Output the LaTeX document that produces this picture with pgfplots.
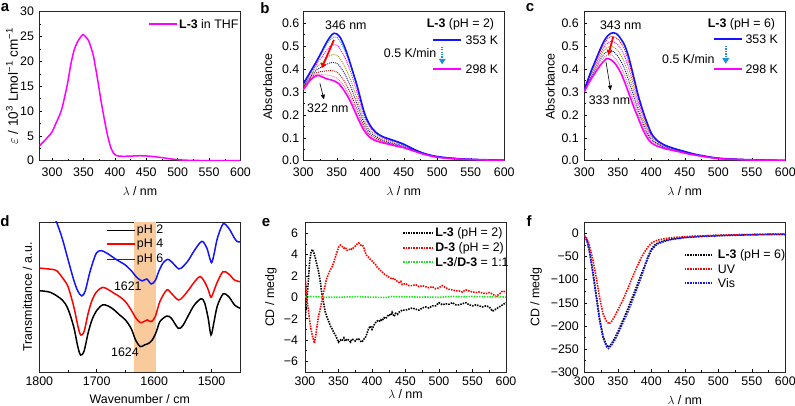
\documentclass[border=0pt]{standalone}
\usepackage{fontspec}
\setmainfont{Liberation Sans}
\usepackage{pgfplots}
\pgfplotsset{compat=1.18}
\usetikzlibrary{arrows.meta}
\definecolor{magC}{RGB}{255,0,255}
\definecolor{bluC}{RGB}{20,20,255}
\definecolor{redC}{RGB}{255,0,0}
\definecolor{grnC}{RGB}{30,230,30}
\definecolor{peach}{RGB}{249,202,155}
\definecolor{arrB}{RGB}{30,144,220}
\definecolor{tealC}{RGB}{0,150,200}
\definecolor{oliveC}{RGB}{150,150,0}
\definecolor{dredC}{RGB}{200,0,0}
\definecolor{pinkC}{RGB}{255,100,140}
\newcommand{\fs}{\fontsize{12.4}{14}\selectfont}
\tikzset{
  dotb/.style={line width=0.9pt, dash pattern=on 1pt off 1pt, smooth},
  dote/.style={line width=1.6pt, dash pattern=on 1.5pt off 1.1pt},
  lgt/.style={font=\fs, anchor=west, inner sep=0pt},
}
\pgfplotsset{
  panel/.style={
    scale only axis, width=201pt, height=149pt, anchor=south west,
    tick align=inside, xtick pos=left, ytick pos=left,
    minor tick num=1,
    major tick length=3pt, minor tick length=1.8pt,
    every tick/.style={black, line width=0.5pt},
    axis line style={line width=0.6pt, black!85},
    tick label style={font=\fs},
    label style={font=\fs},
    /pgf/number format/assume math mode=true,
    /pgf/number format/set thousands separator={},
    yticklabel style={xshift=-2pt},
    clip mode=individual,
  },
}
\begin{document}
\begin{tikzpicture}[x=1pt,y=1pt]
\useasboundingbox (0,0) rectangle (795,406);
% panel labels
\node[font=\bfseries\fontsize{15}{15}\selectfont] at (5,398) {a};
\node[font=\bfseries\fontsize{15}{15}\selectfont] at (265,398) {b};
\node[font=\bfseries\fontsize{15}{15}\selectfont] at (530,398) {c};
\node[font=\bfseries\fontsize{15}{15}\selectfont] at (5,185) {d};
\node[font=\bfseries\fontsize{15}{15}\selectfont] at (266,183) {e};
\node[font=\bfseries\fontsize{15}{15}\selectfont] at (529,185) {f};

% ---------------- a
\begin{axis}[panel, at={(39.5pt,245.3pt)},
  xmin=280, xmax=600, xtick={300,350,...,600},
  ymin=0, ymax=30, ytick={0,5,...,30},
  xticklabel style={yshift=-3.5pt},
  xlabel={$\lambda$ / nm},
  ylabel={$\varepsilon$ / 10\textsuperscript{3} Lmol\textsuperscript{−1} cm\textsuperscript{−1}},
  xlabel style={at={(axis description cs:0.5,-0.207)}, anchor=center},
  ylabel style={font=\fontsize{13.6}{15}\selectfont, at={(axis description cs:-0.137,0.5)}, anchor=center}]
\addplot[magC, line width=1.5pt, smooth] coordinates {
(280,3.0)(290,4.3)(300,5.8)(305,7.2)(310,8.6)(315,10.2)(320,12.8)(325,15.8)(330,19.5)(335,22.2)(340,23.8)(345,24.8)(349,25.4)(353,25.0)(358,24.2)(362,22.8)(366,21.0)(370,18.2)(374,15.2)(378,12.0)(382,9.2)(386,6.5)(390,4.2)(394,2.5)(398,1.5)(402,1.05)(410,0.9)(420,0.9)(440,1.0)(450,0.95)(460,0.85)(470,0.7)(480,0.52)(490,0.35)(500,0.2)(510,0.12)(520,0.07)(540,0.03)(560,0.01)(600,0)};
\draw[magC, line width=1.5pt] (axis description cs:0.545,0.917) -- (axis description cs:0.684,0.917);
\node[lgt] at (axis description cs:0.694,0.917) {\textbf{L-3} in THF};
\end{axis}

% ---------------- b
\begin{axis}[panel, at={(303.3pt,245.3pt)},
  xmin=300, xmax=600, xtick={300,350,...,600},
  ymin=0, ymax=0.65, ytick={0,0.1,...,0.6},
  xticklabel style={yshift=-3.5pt},
  yticklabel style={xshift=1.5pt, /pgf/number format/fixed, /pgf/number format/fixed zerofill, /pgf/number format/precision=1},
  xlabel={$\lambda$ / nm}, ylabel={Absorbance},
  xlabel style={at={(axis description cs:0.5,-0.207)}, anchor=center},
  ylabel style={at={(axis description cs:-0.177,0.5)}, anchor=center}]
\addplot[pinkC, dotb] coordinates {(300,.313)(310,.354)(320,.376)(330,.375)(340,.371)(350,.361)(360,.329)(370,.277)(380,.209)(390,.144)(400,.105)(420,.08)(440,.065)(460,.048)(480,.028)(500,.015)(550,.005)(600,.001)};
\addplot[dredC, dotb] coordinates {(300,.316)(310,.358)(320,.384)(330,.39)(340,.393)(350,.387)(360,.353)(370,.297)(380,.225)(390,.154)(400,.112)(420,.083)(440,.067)(460,.049)(480,.029)(500,.016)(550,.005)(600,.001)};
\addplot[bluC!80!black, dotb] coordinates {(300,.32)(310,.364)(320,.396)(330,.413)(340,.427)(350,.425)(360,.388)(370,.328)(380,.249)(390,.169)(400,.122)(420,.087)(440,.071)(460,.051)(480,.030)(500,.016)(550,.005)(600,.001)};
\addplot[oliveC, dotb] coordinates {(300,.324)(310,.37)(320,.407)(330,.435)(340,.459)(350,.461)(360,.421)(370,.357)(380,.272)(390,.183)(400,.131)(420,.092)(440,.074)(460,.053)(480,.030)(500,.017)(550,.006)(600,.002)};
\addplot[magC, dotb] coordinates {(300,.330)(310,.377)(320,.421)(330,.462)(340,.499)(350,.505)(360,.462)(370,.393)(380,.300)(390,.201)(400,.143)(420,.097)(440,.079)(460,.055)(480,.031)(500,.017)(550,.006)(600,.002)};
\addplot[tealC, dotb] coordinates {(300,.334)(310,.383)(320,.431)(330,.482)(340,.529)(350,.539)(360,.493)(370,.42)(380,.322)(390,.215)(400,.152)(420,.101)(440,.082)(460,.056)(480,.032)(500,.018)(550,.006)(600,.002)};
\addplot[bluC, line width=1.6pt, smooth] coordinates {(300,.335)(305,.36)(310,.385)(315,.41)(320,.435)(325,.462)(330,.49)(335,.518)(340,.54)(343,.551)(346,.556)(350,.553)(355,.538)(360,.508)(365,.47)(370,.425)(375,.378)(380,.33)(385,.275)(390,.22)(395,.18)(400,.153)(405,.133)(410,.119)(415,.11)(420,.103)(430,.093)(440,.083)(450,.072)(460,.057)(470,.043)(480,.032)(490,.024)(500,.018)(520,.011)(550,.006)(600,.002)};
\addplot[magC, line width=1.6pt, smooth] coordinates {(300,.31)(305,.33)(310,.35)(316,.365)(322,.372)(328,.366)(335,.357)(342,.352)(348,.345)(352,.338)(356,.326)(360,.31)(365,.287)(370,.26)(375,.228)(380,.195)(385,.163)(390,.135)(395,.115)(400,.1)(405,.091)(410,.085)(420,.077)(430,.07)(440,.063)(450,.057)(460,.047)(470,.037)(480,.028)(490,.021)(500,.015)(520,.009)(550,.005)(600,.001)};
\node[font=\fs] at (axis cs:363.5,0.592) {346 nm};
\node[font=\fs] at (axis cs:336.7,0.23) {322 nm};
\draw[redC, line width=1.8pt, -{Triangle[length=5pt,width=5.5pt]}] (axis cs:345.7,0.527) -- (axis cs:327.4,0.403);
\draw[black, line width=0.6pt, -{Triangle[length=4.5pt,width=4pt]}] (axis cs:324.8,0.338) -- (axis cs:330.8,0.268);
\node[font=\fs, anchor=east] at (axis cs:590,0.596) {\textbf{L-3} (pH = 2)};
\draw[bluC, line width=1.6pt] (axis cs:492.9,0.527) -- (axis cs:536.1,0.527);
\node[lgt] at (axis cs:542,0.527) {353 K};
\draw[magC, line width=1.6pt] (axis cs:492.9,0.40) -- (axis cs:536.1,0.40);
\node[lgt] at (axis cs:542,0.40) {298 K};
\draw[arrB, line width=1.6pt, dash pattern=on 1.3pt off 1.1pt, -{Triangle[length=5.5pt,width=6.5pt]}] (axis cs:507.3,0.497) -- (axis cs:507.3,0.42);
\node[font=\fs, anchor=east, inner sep=0pt] at (axis cs:498.9,0.47) {0.5 K/min};
\end{axis}

% ---------------- c
\begin{axis}[panel, at={(584.3pt,245.3pt)},
  xmin=300, xmax=600, xtick={300,350,...,600},
  ymin=0, ymax=0.65, ytick={0,0.1,...,0.6},
  xticklabel style={yshift=-3.5pt},
  yticklabel style={/pgf/number format/fixed, /pgf/number format/fixed zerofill, /pgf/number format/precision=1},
  xlabel={$\lambda$ / nm}, ylabel={Absorbance},
  xlabel style={at={(axis description cs:0.5,-0.207)}, anchor=center},
  ylabel style={at={(axis description cs:-0.170,0.5)}, anchor=center}]
\addplot[pinkC, dotb] coordinates {(300,.302)(310,.361)(320,.411)(330,.453)(340,.461)(350,.432)(360,.374)(370,.291)(380,.208)(390,.134)(400,.086)(420,.056)(440,.041)(460,.028)(480,.018)(500,.009)(550,.003)(600,.001)};
\addplot[bluC!80!black, dotb] coordinates {(300,.304)(310,.367)(320,.421)(330,.468)(340,.481)(350,.456)(360,.401)(370,.316)(380,.225)(390,.146)(400,.093)(420,.058)(440,.043)(460,.029)(480,.018)(500,.010)(550,.003)(600,.001)};
\addplot[oliveC, dotb] coordinates {(300,.305)(310,.373)(320,.431)(330,.483)(340,.500)(350,.480)(360,.428)(370,.34)(380,.242)(390,.159)(400,.100)(420,.061)(440,.044)(460,.030)(480,.019)(500,.010)(550,.004)(600,.001)};
\addplot[magC, dotb] coordinates {(300,.307)(310,.380)(320,.442)(330,.499)(340,.521)(350,.506)(360,.457)(370,.367)(380,.26)(390,.173)(400,.107)(420,.064)(440,.046)(460,.031)(480,.019)(500,.010)(550,.004)(600,.001)};
\addplot[redC, dotb] coordinates {(300,.309)(310,.386)(320,.453)(330,.514)(340,.542)(350,.531)(360,.486)(370,.393)(380,.278)(390,.186)(400,.115)(420,.066)(440,.047)(460,.031)(480,.020)(500,.011)(550,.004)(600,.001)};
\addplot[bluC, line width=1.6pt, smooth] coordinates {(300,.31)(305,.35)(310,.39)(315,.425)(320,.46)(325,.495)(330,.525)(335,.545)(340,.556)(344,.558)(348,.554)(352,.542)(356,.525)(360,.505)(365,.465)(370,.41)(375,.35)(380,.29)(385,.24)(390,.195)(395,.155)(400,.12)(405,.099)(410,.085)(420,.068)(430,.057)(440,.048)(450,.04)(460,.032)(470,.025)(480,.02)(490,.015)(500,.011)(520,.007)(550,.004)(600,.001)};
\addplot[magC, line width=1.6pt, smooth] coordinates {(300,.30)(305,.33)(310,.355)(315,.378)(320,.40)(325,.42)(330,.437)(333,.445)(337,.444)(340,.44)(345,.427)(350,.407)(355,.38)(360,.345)(365,.305)(370,.265)(375,.225)(380,.19)(385,.152)(390,.12)(395,.095)(400,.078)(405,.069)(410,.062)(420,.053)(430,.046)(440,.04)(450,.033)(460,.027)(470,.022)(480,.017)(490,.013)(500,.009)(520,.006)(550,.003)(600,.001)};
\node[font=\fs] at (axis cs:354.4,0.592) {343 nm};
\node[font=\fs] at (axis cs:337.5,0.265) {333 nm};
\draw[redC, line width=1.8pt, -{Triangle[length=5pt,width=5.5pt]}] (axis cs:343.2,0.541) -- (axis cs:335.8,0.461);
\draw[black, line width=0.6pt, -{Triangle[length=4.5pt,width=4pt]}] (axis cs:332.3,0.432) -- (axis cs:339.3,0.308);
\node[font=\fs, anchor=east] at (axis cs:590,0.596) {\textbf{L-3} (pH = 6)};
\draw[bluC, line width=1.6pt] (axis cs:493.2,0.53) -- (axis cs:534.9,0.53);
\node[lgt] at (axis cs:540.4,0.53) {353 K};
\draw[magC, line width=1.6pt] (axis cs:493.2,0.40) -- (axis cs:534.9,0.40);
\node[lgt] at (axis cs:540.4,0.40) {298 K};
\draw[arrB, line width=1.6pt, dash pattern=on 1.3pt off 1.1pt, -{Triangle[length=5.5pt,width=6.5pt]}] (axis cs:511.1,0.50) -- (axis cs:511.1,0.423);
\node[font=\fs, anchor=east, inner sep=0pt] at (axis cs:494.7,0.442) {0.5 K/min};
\end{axis}

% ---------------- d
\begin{axis}[panel, at={(39.3pt,34pt)}, height=150pt,
  x dir=reverse, xmin=1450, xmax=1800, xtick={1500,1600,1700,1800},
  ymin=0, ymax=100, ytick=\empty, minor ytick=\empty,
  xticklabel style={yshift=-1pt},
  xlabel={Wavenumber / cm}, ylabel={Transmittance / a.u.},
  xlabel style={at={(axis description cs:0.5,-0.18)}, anchor=center},
  ylabel style={at={(axis description cs:-0.059,0.5)}, anchor=center}]
\addplot[draw=none, fill=peach] coordinates {(1635,100)(1596,100)} \closedcycle;
\addplot[black, line width=1.5pt, smooth] coordinates {(1800,54.2)(1780,53)(1760,48)(1750,42)(1740,30)(1733,17)(1728,11.3)(1722,14)(1715,26)(1708,35)(1700,41)(1690,44.7)(1680,44)(1670,41.5)(1660,38)(1650,34.7)(1640,29)(1632,21)(1624,16.9)(1617,18)(1610,19)(1603,21.5)(1596,27)(1590,33.6)(1578,37.3)(1570,35.8)(1558,29.1)(1550,31)(1540,38)(1530,44.7)(1518,48.9)(1512,46)(1506,36)(1501,24.7)(1496,33)(1490,44)(1480,52)(1470,50.2)(1460,44.7)(1450,42.4)};
\addplot[redC, line width=1.5pt, smooth] coordinates {(1800,69.3)(1780,68.5)(1770,67.6)(1760,63)(1750,56.9)(1740,43.6)(1733,31)(1728,24.7)(1722,27)(1715,39)(1708,48)(1700,53.6)(1690,56.4)(1680,55)(1670,52.5)(1660,50.2)(1650,46.9)(1640,41.3)(1632,36)(1624,32.9)(1617,33.8)(1612,34.7)(1605,33.6)(1598,37)(1590,47)(1578,54.7)(1570,52.4)(1558,48)(1550,50)(1540,54.7)(1530,60)(1520,63.6)(1512,60)(1506,55)(1501,49.8)(1496,54)(1490,60)(1480,66.9)(1470,65.3)(1460,61.3)(1450,60.2)};
\addplot[bluC, line width=1.5pt, smooth] coordinates {(1785,118)(1775,104)(1770,100)(1760,89)(1750,75)(1740,61.3)(1733,54)(1726,50.7)(1720,54)(1713,65)(1706,74)(1700,79.6)(1692,80.9)(1680,78.7)(1670,76)(1660,73.6)(1650,71.3)(1640,67.6)(1630,63)(1621,60.7)(1613,62)(1605,58.7)(1598,61)(1592,67)(1585,72.4)(1577,75.1)(1570,73.6)(1557,68.7)(1548,71)(1540,74.7)(1530,81)(1520,86.2)(1515,86.9)(1508,82.4)(1504,77)(1500,72.9)(1496,78)(1490,89)(1480,98.7)(1470,95.8)(1460,89.1)(1455,86.9)(1450,86.7)};
\draw[black, line width=1.5pt] (axis description cs:0.336,0.942) -- (axis description cs:0.475,0.942);
\node[lgt] at (axis description cs:0.485,0.942) {pH 2};
\draw[redC, line width=1.5pt] (axis description cs:0.336,0.853) -- (axis description cs:0.475,0.853);
\node[lgt] at (axis description cs:0.485,0.853) {pH 4};
\draw[bluC, line width=1.5pt] (axis description cs:0.336,0.751) -- (axis description cs:0.475,0.751);
\node[lgt] at (axis description cs:0.485,0.751) {pH 6};
\node[font=\fs] at (axis cs:1645.9,57.3) {1621};
\node[font=\fs] at (axis cs:1650.9,12.9) {1624};
\end{axis}

% ---------------- e
\begin{axis}[panel, at={(305pt,34pt)}, height=149.3pt,
  xmin=300, xmax=600, xtick={300,350,...,600},
  ymin=-7, ymax=7, ytick={-6,-4,...,6}, yticklabels={−6,−4,−2,0,2,4,6},
  xticklabel style={yshift=-1pt},
  yticklabel style={xshift=-1.5pt},
  xlabel={$\lambda$ / nm}, ylabel={CD / medg},
  xlabel style={at={(axis description cs:0.5,-0.15)}, anchor=center},
  ylabel style={at={(axis description cs:-0.169,0.5)}, anchor=center}]
\addplot[black, dote] coordinates {(300,-2.2)(302,-0.7)(305,1.5)(307,3.4)(309,4.2)(311,4.5)(313,4.2)(315,3.8)(318,3)(320,2.5)(323,1.4)(325,0.4)(328,-0.6)(330,-1.3)(333,-1.9)(335,-2.2)(338,-2.7)(340,-2.9)(343,-3.3)(345,-3.5)(348,-3.9)(350,-4.2)(353,-4.0)(355,-4.1)(358,-3.8)(360,-4.1)(363,-3.9)(365,-4.0)(368,-4.2)(370,-3.9)(373,-4.0)(375,-4.1)(378,-3.9)(380,-3.9)(383,-4.1)(385,-4.2)(388,-3.9)(390,-3.8)(393,-3.3)(395,-2.9)(398,-2.7)(400,-3.0)(403,-2.6)(405,-2.4)(408,-2.2)(410,-2.3)(413,-2.1)(415,-2.2)(418,-1.9)(420,-2.0)(423,-1.8)(425,-1.6)(428,-1.7)(430,-1.4)(433,-1.8)(435,-1.5)(438,-1.6)(440,-1.4)(443,-1.3)(445,-1.2)(450,-1.2)(455,-1.1)(460,-1.0)(465,-1.1)(470,-1.2)(475,-1.0)(480,-0.9)(485,-1.0)(490,-0.8)(495,-0.8)(500,-0.5)(505,-0.7)(510,-0.6)(515,-0.65)(520,-0.5)(525,-0.7)(530,-0.7)(535,-0.6)(540,-0.5)(545,-0.7)(550,-0.8)(555,-0.7)(560,-0.8)(565,-0.9)(570,-0.8)(575,-0.9)(580,-1.3)(585,-1.1)(590,-0.9)(595,-0.7)(600,-0.5)};
\addplot[redC, dote] coordinates {(300,2.2)(302,0.3)(305,-1.2)(307,-2.2)(309,-3.0)(311,-3.6)(314,-4.3)(316,-3.6)(318,-2.7)(320,-1.8)(322,-1.3)(325,-0.4)(327,0.3)(330,1.1)(332,1.7)(335,2.2)(338,2.6)(340,2.8)(343,3.3)(345,3.7)(348,4.3)(350,4.7)(353,4.9)(355,4.8)(358,4.6)(360,4.7)(363,4.4)(365,4.4)(368,4.6)(370,4.5)(373,4.7)(375,4.8)(378,5.0)(380,5.1)(383,4.9)(386,4.9)(388,4.6)(391,4.0)(394,3.8)(397,3.6)(400,3.4)(403,3.2)(405,3.1)(408,2.8)(410,2.7)(413,2.5)(415,2.4)(418,2.2)(420,2.1)(423,2.0)(425,1.9)(428,1.8)(430,1.7)(433,1.8)(435,1.6)(438,1.5)(440,1.4)(443,1.5)(445,1.2)(450,1.3)(455,1.1)(460,1.1)(465,1.2)(470,1.0)(475,1.1)(480,1.0)(485,0.9)(490,1.0)(495,0.8)(500,0.9)(505,1.1)(510,0.9)(515,0.75)(520,0.7)(525,0.6)(530,0.6)(535,0.5)(540,0.7)(545,0.6)(550,0.5)(555,0.45)(560,0.5)(565,0.4)(570,0.35)(575,0.45)(580,0.3)(585,0.1)(590,0.3)(595,0.6)(600,0.5)};
\addplot[grnC, dote] coordinates {(300,0.05)(310,0.08)(320,0.05)(330,0.0)(340,0.02)(350,0.0)(360,0.03)(370,0.05)(380,0.07)(390,0.03)(400,0.02)(410,0.0)(420,-0.02)(430,0.08)(440,0.06)(450,0.05)(460,0.04)(470,0.02)(480,0.03)(490,0.02)(500,0.0)(510,0.05)(520,0.08)(530,0.06)(540,0.05)(550,0.08)(560,0.07)(570,0.05)(580,0.04)(590,0.06)(600,0.02)};
\draw[black, dote] (axis description cs:0.488,0.929) -- (axis description cs:0.632,0.929);
\node[lgt] at (axis description cs:0.647,0.929) {\textbf{L-3} (pH = 2)};
\draw[redC, dote] (axis description cs:0.488,0.829) -- (axis description cs:0.632,0.829);
\node[lgt] at (axis description cs:0.647,0.829) {\textbf{D-3} (pH = 2)};
\draw[grnC, dote] (axis description cs:0.488,0.735) -- (axis description cs:0.632,0.735);
\node[lgt] at (axis description cs:0.647,0.735) {\textbf{L-3}/\textbf{D-3} = 1:1};
\end{axis}

% ---------------- f
\begin{axis}[panel, at={(584.3pt,34pt)}, height=150pt,
  xmin=300, xmax=600, xtick={300,350,...,600},
  ymin=-300, ymax=25, ytick={-300,-250,...,0}, yticklabels={−300,−250,−200,−150,−100,−50,0},
  xticklabel style={yshift=-1.5pt},
  xlabel={$\lambda$ / nm}, ylabel={CD / medg},
  xlabel style={at={(axis description cs:0.5,-0.187)}, anchor=center},
  ylabel style={at={(axis description cs:-0.24,0.5)}, anchor=center}]
\addplot[black, dote] coordinates {(300,-7)(304,-14)(308,-40)(313,-85)(318,-135)(323,-186)(328,-222)(333,-242)(336,-246)(340,-240)(345,-228)(350,-213)(355,-196)(360,-180)(365,-163)(370,-144)(375,-126)(380,-108)(385,-88)(390,-70)(395,-50)(400,-34)(405,-25)(410,-20)(420,-15)(430,-12)(440,-10)(450,-8)(460,-7)(480,-5)(500,-4)(520,-3)(540,-2.5)(560,-2)(580,-1.5)(600,-1)};
\addplot[redC, dote] coordinates {(300,-4)(304,-11)(308,-28)(313,-58)(318,-97)(323,-140)(328,-174)(333,-190)(337,-196)(341,-190)(345,-180)(350,-166)(355,-152)(360,-136)(365,-119)(370,-101)(375,-84)(380,-68)(385,-52)(390,-40)(395,-29)(400,-21)(405,-17)(410,-14)(420,-11)(430,-9)(440,-8)(450,-7)(460,-6)(480,-5)(500,-4)(520,-3)(540,-2.5)(560,-2)(580,-1.5)(600,-1)};
\addplot[bluC, dote] coordinates {(300,-8)(304,-15)(308,-42)(313,-88)(318,-140)(323,-190)(328,-226)(333,-245)(336,-249)(340,-243)(345,-232)(350,-218)(355,-202)(360,-186)(365,-170)(370,-152)(375,-133)(380,-114)(385,-94)(390,-73)(395,-53)(400,-37)(405,-28)(410,-22)(420,-17)(430,-13)(440,-11)(450,-9)(460,-8)(480,-6)(500,-5)(520,-4)(540,-3)(560,-2.5)(580,-2)(600,-2)};
\draw[black, dote] (axis description cs:0.5,0.78) -- (axis description cs:0.639,0.78);
\node[lgt] at (axis description cs:0.664,0.78) {\textbf{L-3} (pH = 6)};
\draw[redC, dote] (axis description cs:0.5,0.687) -- (axis description cs:0.639,0.687);
\node[lgt] at (axis description cs:0.664,0.687) {UV};
\draw[bluC, dote] (axis description cs:0.5,0.593) -- (axis description cs:0.639,0.593);
\node[lgt] at (axis description cs:0.664,0.593) {Vis};
\end{axis}
\end{tikzpicture}
\end{document}
